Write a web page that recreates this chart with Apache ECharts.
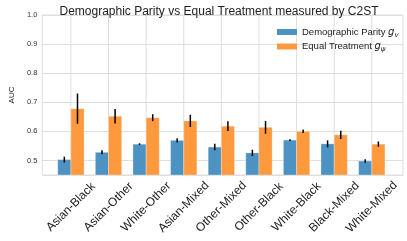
<!DOCTYPE html>
<html>
<head>
<meta charset="utf-8">
<script src="https://cdn.jsdelivr.net/npm/echarts@6/dist/echarts.min.js"></script>
<style>html,body{margin:0;padding:0;background:#fff}#c{width:407px;height:241px}</style>
</head>
<body>
<div id="c"></div>
<script>
var categories = ['Asian-Black','Asian-Other','White-Other','Asian-Mixed','Other-Mixed','Other-Black','White-Black','Black-Mixed','White-Mixed'];
var dpValues = [0.503, 0.528, 0.556, 0.569, 0.546, 0.526, 0.570, 0.557, 0.498];
var dpErr    = [0.010, 0.007, 0.003, 0.007, 0.011, 0.011, 0.003, 0.012, 0.006];
var etValues = [0.678, 0.652, 0.647, 0.636, 0.618, 0.614, 0.600, 0.588, 0.556];
var etErr    = [0.052, 0.025, 0.012, 0.021, 0.017, 0.022, 0.006, 0.014, 0.009];
var yTicks = [0.5, 0.6, 0.7, 0.8, 0.9, 1.0];

var FONT = 'Liberation Sans';
var BLUE = '#4c92c3', ORANGE = '#ff993e';
var BW = 0.35;

function barData(vals, errs) {
  return vals.map(function (v, i) { return [i, v, errs[i]]; });
}
function makeRender(side, color) {
  return function (params, api) {
    var i = api.value(0), v = api.value(1), e = api.value(2);
    var x0 = side < 0 ? i - BW : i;
    var x1 = side < 0 ? i : i + BW;
    var cs = params.coordSys;
    var base = cs.y + cs.height;
    var p0 = api.coord([x0, v]);
    var p1 = api.coord([x1, v]);
    var xc = (p0[0] + p1[0]) / 2;
    var eTop = api.coord([i, v + e])[1];
    var eBot = api.coord([i, v - e])[1];
    return {
      type: 'group',
      children: [
        {type: 'rect', shape: {x: p0[0], y: p0[1], width: p1[0] - p0[0], height: base - p0[1]},
         style: {fill: color, stroke: 'rgba(255,255,255,0.5)', lineWidth: 0.6}},
        {type: 'line', shape: {x1: xc, y1: eTop, x2: xc, y2: eBot},
         style: {stroke: '#000', lineWidth: 1.5}}
      ]
    };
  };
}

var chart = echarts.init(document.getElementById('c'), null, {renderer: 'canvas'});
chart.setOption({
  animation: false,
  backgroundColor: '#fff',
  textStyle: {fontFamily: FONT},
  title: {
    text: 'Demographic Parity vs Equal Treatment measured by C2ST',
    left: 214, top: 1, textAlign: 'center',
    textStyle: {fontFamily: FONT, fontSize: 12, fontWeight: 'normal', color: '#222'}
  },
  legend: {
    orient: 'vertical', left: 272, top: 21,
    itemWidth: 20, itemHeight: 6, itemGap: 2,
    icon: 'rect',
    data: ['Demographic Parity', 'Equal Treatment'],
    formatter: function (n) {
      return n === 'Demographic Parity' ? n + ' {g|g}{s|v}' : n + ' {g|g}{s|ψ}';
    },
    textStyle: {
      fontFamily: FONT, fontSize: 9.5, color: '#222', lineHeight: 12,
      rich: {
        g: {fontFamily: 'DejaVu Sans', fontStyle: 'italic', fontSize: 10, color: '#222'},
        s: {fontFamily: 'DejaVu Sans', fontStyle: 'italic', fontSize: 7, color: '#222', padding: [6, 0, 0, 0]}
      }
    }
  },
  grid: {left: 27, right: 4, top: 15, bottom: 66, show: true, borderColor: '#dedede', borderWidth: 1},
  xAxis: {
    type: 'value', min: -0.76, max: 8.83,
    splitLine: {show: false}, axisLine: {show: false}, axisTick: {show: false},
    axisLabel: {
      customValues: categories.map(function (c, i) { return i; }),
      formatter: function (v) { return categories[Math.round(v)]; },
      rotate: 45, align: 'center', verticalAlign: 'middle', margin: 32,
      fontFamily: FONT, fontSize: 12, color: '#222'
    }
  },
  yAxis: {
    type: 'value', min: 0.45, max: 1.0,
    name: 'AUC', nameLocation: 'middle', nameGap: 17,
    nameTextStyle: {fontFamily: FONT, fontSize: 8, color: '#222'},
    axisLine: {show: false}, axisTick: {show: false},
    splitLine: {lineStyle: {color: '#dedede', width: 1}},
    axisLabel: {
      customValues: yTicks,
      formatter: function (v) { return v.toFixed(1); },
      margin: 5, fontFamily: FONT, fontSize: 7.5, color: '#333'
    }
  },
  series: [
    {
      type: 'custom', name: 'gridx', silent: true, z: 0,
      data: categories.map(function (c, i) { return [i]; }),
      renderItem: function (params, api) {
        var cs = params.coordSys;
        var x = api.coord([api.value(0), 0.5])[0];
        return {type: 'line', shape: {x1: x, y1: cs.y, x2: x, y2: cs.y + cs.height},
                style: {stroke: '#dedede', lineWidth: 1}};
      }
    },
    {
      type: 'custom', name: 'Demographic Parity', z: 2,
      itemStyle: {color: BLUE},
      data: barData(dpValues, dpErr),
      renderItem: makeRender(-1, BLUE)
    },
    {
      type: 'custom', name: 'Equal Treatment', z: 2,
      itemStyle: {color: ORANGE},
      data: barData(etValues, etErr),
      renderItem: makeRender(1, ORANGE)
    }
  ]
});
</script>
</body>
</html>
